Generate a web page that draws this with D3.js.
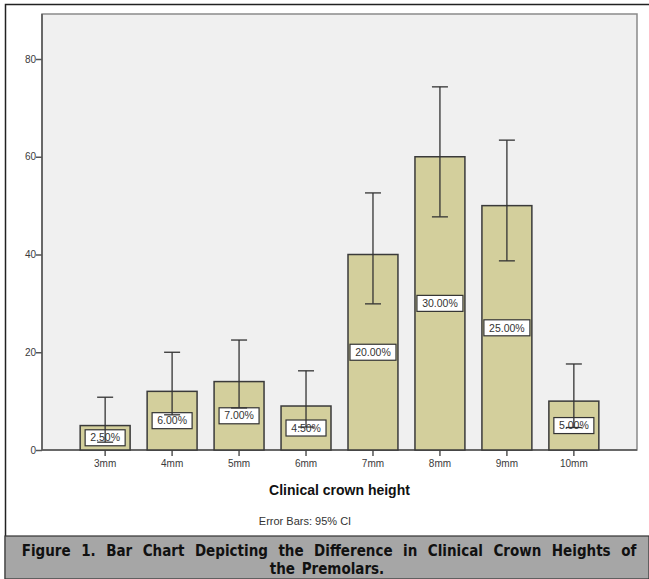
<!DOCTYPE html>
<html>
<head>
<meta charset="utf-8">
<script src="https://cdn.jsdelivr.net/npm/d3@7"></script>
<style>
  body { margin: 0; background: #fff; }
  svg { display: block; }
</style>
</head>
<body>
<div id="chart"></div>
<script>
(function(){
// data
const categories = ["3mm", "4mm", "5mm", "6mm", "7mm", "8mm", "9mm", "10mm"];
const counts = [5, 12, 14, 9, 40, 60, 50, 10];
const percentLabels = ["2.50%", "6.00%", "7.00%", "4.50%", "20.00%", "30.00%", "25.00%", "5.00%"];
const ciLower = [1.6, 7.2, 8.6, 4.7, 29.9, 47.7, 38.7, 4.6];
const ciUpper = [10.8, 20.0, 22.5, 16.2, 52.6, 74.3, 63.4, 17.6];
const yTicks = [0, 20, 40, 60, 80];

const W = 649, H = 579;
const plot = { left: 42, right: 637, top: 14, bottom: 450 };

const svg = d3.select("#chart").append("svg")
    .attr("width", W)
    .attr("height", H);

// outer frame
svg.append("path")
    .attr("d", `M5.5,${H} L5.5,4.5 L${W},4.5`)
    .attr("fill", "none")
    .attr("stroke", "#222")
    .attr("stroke-width", 1.5);

// plot background
svg.append("rect")
    .attr("x", plot.left).attr("y", plot.top)
    .attr("width", plot.right - plot.left)
    .attr("height", plot.bottom - plot.top)
    .attr("fill", "#f0f0f0")
    .attr("stroke", "#8a8a8a")
    .attr("stroke-width", 1.5);

const x = d3.scaleBand()
    .domain(categories)
    .range([plot.left, plot.right])
    .paddingInner(0.254)
    .paddingOuter(0.57);

const y = d3.scaleLinear()
    .domain([0, 80])
    .range([plot.bottom, 59]);

// axes
const yAxis = svg.append("g")
    .attr("transform", `translate(${plot.left},0)`)
    .call(d3.axisLeft(y).tickValues(yTicks).tickSize(6).tickSizeOuter(0));
const xAxis = svg.append("g")
    .attr("transform", `translate(0,${plot.bottom})`)
    .call(d3.axisBottom(x).tickSize(6).tickSizeOuter(0));
[yAxis, xAxis].forEach(g => {
  g.select(".domain").remove();
  g.selectAll(".tick line").attr("stroke", "#555").attr("stroke-width", 1.5);
  g.selectAll(".tick text")
    .attr("fill", "#3a3a3a")
    .style("font-family", "Liberation Sans, Arial, sans-serif")
    .style("font-size", "10px");
});
yAxis.selectAll(".tick text").attr("x", -6);
xAxis.selectAll(".tick text").attr("y", 10);

// axis lines
svg.append("line")
    .attr("x1", plot.left).attr("x2", plot.left)
    .attr("y1", plot.top).attr("y2", plot.bottom)
    .attr("stroke", "#555").attr("stroke-width", 1.5);
svg.append("line")
    .attr("x1", plot.left).attr("x2", plot.right)
    .attr("y1", plot.bottom).attr("y2", plot.bottom)
    .attr("stroke", "#555").attr("stroke-width", 1.5);

const rows = categories.map((c, i) => ({
  cat: c, n: counts[i], label: percentLabels[i], lo: ciLower[i], hi: ciUpper[i]
}));

// bars
svg.selectAll(".bar")
    .data(rows)
    .enter()
    .append("rect")
    .attr("class", "bar")
    .attr("x", d => x(d.cat))
    .attr("y", d => y(d.n))
    .attr("width", x.bandwidth())
    .attr("height", d => y(0) - y(d.n))
    .attr("fill", "#d3cf9c")
    .attr("stroke", "#3a3a3a")
    .attr("stroke-width", 1.5);

// percentage labels
const lab = svg.selectAll(".lab")
    .data(rows)
    .enter()
    .append("g")
    .attr("class", "lab")
    .attr("transform", d => `translate(${x(d.cat) + x.bandwidth() / 2},${(y(d.n) + y(0)) / 2})`);

lab.append("rect")
    .attr("x", d => d.label.length > 5 ? -23 : -20)
    .attr("y", -8)
    .attr("width", d => d.label.length > 5 ? 46 : 40)
    .attr("height", 16)
    .attr("fill", "#fff")
    .attr("stroke", "#333")
    .attr("stroke-width", 1.2);

// error bars
const eb = svg.selectAll(".eb")
    .data(rows)
    .enter()
    .append("g")
    .attr("class", "eb")
    .attr("transform", d => `translate(${x(d.cat) + x.bandwidth() / 2},0)`)
    .attr("stroke", "#333")
    .attr("stroke-width", 1.3);
eb.append("line").attr("y1", d => y(d.lo)).attr("y2", d => y(d.hi));
eb.append("line").attr("x1", -8).attr("x2", 8).attr("y1", d => y(d.hi)).attr("y2", d => y(d.hi));
eb.append("line").attr("x1", -8).attr("x2", 8).attr("y1", d => y(d.lo)).attr("y2", d => y(d.lo));

lab.append("text")
    .attr("text-anchor", "middle")
    .attr("dy", "0.35em")
    .attr("fill", "#333")
    .style("font-family", "Liberation Sans, Arial, sans-serif")
    .style("font-size", "10.5px")
    .text(d => d.label);

// axis title and note
svg.append("text")
    .attr("x", (plot.left + plot.right) / 2)
    .attr("y", 495)
    .attr("text-anchor", "middle")
    .attr("fill", "#111")
    .style("font-family", "Liberation Sans, Arial, sans-serif")
    .style("font-weight", "bold")
    .style("font-size", "14px")
    .text("Clinical crown height");

svg.append("text")
    .attr("x", 305)
    .attr("y", 525)
    .attr("text-anchor", "middle")
    .attr("fill", "#333")
    .style("font-family", "Liberation Sans, Arial, sans-serif")
    .style("font-size", "11px")
    .text("Error Bars: 95% CI");

// caption band
svg.append("rect")
    .attr("x", 5).attr("y", 536)
    .attr("width", W - 5).attr("height", H - 536)
    .attr("fill", "#a6a6a6")
    .attr("stroke", "#333")
    .attr("stroke-width", 1.2);

const cap = svg.append("text")
    .attr("fill", "#111")
    .attr("text-anchor", "middle")
    .style("font-family", "DejaVu Sans Condensed, DejaVu Sans, Verdana, sans-serif")
    .style("font-stretch", "condensed")
    .style("font-weight", "bold")
    .style("font-size", "15px");
cap.append("tspan")
    .attr("x", 329).attr("y", 556)
    .style("word-spacing", "5.8px")
    .text("Figure 1. Bar Chart Depicting the Difference in Clinical Crown Heights of");
cap.append("tspan")
    .attr("x", 327).attr("y", 574)
    .style("word-spacing", "2px")
    .text("the Premolars.");
})();
</script>
</body>
</html>
